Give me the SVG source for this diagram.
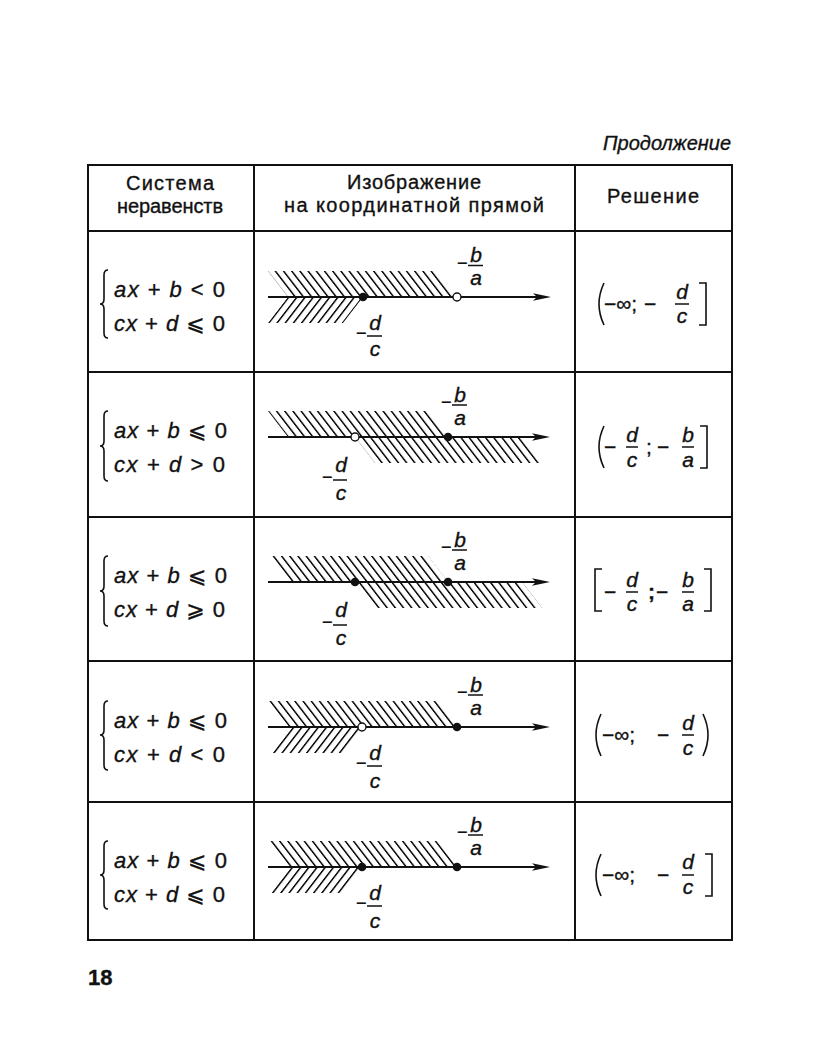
<svg xmlns="http://www.w3.org/2000/svg" width="816" height="1058" viewBox="0 0 816 1058">
<style>
.t{font-family:"Liberation Sans","DejaVu Sans",Arial,sans-serif;fill:#111;stroke:#111;stroke-width:0.35}
.i{font-style:italic}
.h{font-size:20px}
.eq{font-size:22px}
.f{font-size:21px;font-style:italic}
.m{font-size:18px}
.s{font-size:21px}
.grid{stroke:#111;stroke-width:2;fill:none}
.ax{stroke:#111;stroke-width:1.8}
.fb{stroke:#111;stroke-width:1.5}
.dot{fill:#111}
.open{fill:#fff;stroke:#111;stroke-width:1.4}
.dl{fill:none;stroke:#111;stroke-width:1.6}
</style>
<defs>
<pattern id="hb" patternUnits="userSpaceOnUse" width="8.2" height="20" patternTransform="skewX(37.6)">
<rect x="0" y="0" width="2" height="20" fill="#111"/>
</pattern>
<pattern id="hf" patternUnits="userSpaceOnUse" width="8.2" height="20" patternTransform="skewX(-37.6)">
<rect x="0" y="0" width="2" height="20" fill="#111"/>
</pattern>
<marker id="arr" markerUnits="userSpaceOnUse" markerWidth="20" markerHeight="10" refX="4" refY="5" orient="auto">
<path d="M0,1.2 L18,5 L0,8.8 L4,5 z" fill="#111"/>
</marker>
</defs>
<rect width="816" height="1058" fill="#fff"/>

<text class="t i" x="731" y="150" font-size="20" text-anchor="end">Продолжение</text>

<g id="table" class="grid">
<rect x="88" y="165" width="644" height="775"/>
<line x1="254" y1="165" x2="254" y2="940"/>
<line x1="575" y1="165" x2="575" y2="940"/>
<line x1="88" y1="231" x2="732" y2="231"/>
<line x1="88" y1="372" x2="732" y2="372"/>
<line x1="88" y1="517" x2="732" y2="517"/>
<line x1="88" y1="661" x2="732" y2="661"/>
<line x1="88" y1="802" x2="732" y2="802"/>
</g>

<g id="header">
<text class="t h" x="170" y="190" text-anchor="middle" textLength="88" lengthAdjust="spacing">Система</text>
<text class="t h" x="170" y="213" text-anchor="middle" textLength="106" lengthAdjust="spacing">неравенств</text>
<text class="t h" x="414" y="189" text-anchor="middle" textLength="134" lengthAdjust="spacing">Изображение</text>
<text class="t h" x="414" y="212" text-anchor="middle" textLength="260" lengthAdjust="spacing">на координатной прямой</text>
<text class="t h" x="653" y="203" text-anchor="middle" textLength="92" lengthAdjust="spacing">Решение</text>
</g>

<!-- Row 1 -->
<g id="row1-system">
<path class="dl" d="M108,270 Q104,270 104,275 L104,299 Q104,304 100,304 Q104,304 104,309 L104,333 Q104,338 108,338"/>
<text class="t eq" x="114" y="297" textLength="111" lengthAdjust="spacing"><tspan class="i">ax</tspan> + <tspan class="i">b</tspan> &lt; 0</text>
<text class="t eq" x="114" y="331" textLength="111" lengthAdjust="spacing"><tspan class="i">cx</tspan> + <tspan class="i">d</tspan> ⩽ 0</text>
</g>
<g id="row1-line">
<polygon points="268,271 437,271 457,297 288,297" fill="url(#hb)"/>
<polygon points="288,297 363,297 343,323 268,323" fill="url(#hf)"/>
<line class="ax" x1="268" y1="297" x2="537" y2="297" marker-end="url(#arr)"/>
<circle class="dot" cx="363" cy="297" r="4.3"/>
<circle class="open" cx="457" cy="297" r="4"/>
<text class="t m" x="457" y="268.5">−</text>
<line class="fb" x1="468" y1="265.5" x2="483" y2="265.5"/>
<text class="t f" x="476" y="262" text-anchor="middle">b</text>
<text class="t f" x="476" y="284.5" text-anchor="middle">a</text>
<text class="t m" x="356" y="339">−</text>
<line class="fb" x1="367" y1="336" x2="382" y2="336"/>
<text class="t f" x="375" y="330" text-anchor="middle">d</text>
<text class="t f" x="375" y="356" text-anchor="middle">c</text>
</g>
<g id="row1-solution">
<path class="dl" d="M604,283 Q594,304 604,325"/>
<text class="t s" x="604" y="311">−∞;</text>
<text class="t s" x="644" y="311">−</text>
<text class="t f" x="682" y="299" text-anchor="middle">d</text>
<line class="fb" x1="675" y1="304" x2="689" y2="304"/>
<text class="t f" x="682" y="323" text-anchor="middle">c</text>
<path class="dl" d="M699,283 H706 V325 H699"/>
</g>

<!-- Row 2 -->
<g id="row2-system">
<path class="dl" d="M108,411 Q104,411 104,416 L104,441 Q104,446 100,446 Q104,446 104,451 L104,476 Q104,481 108,481"/>
<text class="t eq" x="114" y="438" textLength="113" lengthAdjust="spacing"><tspan class="i">ax</tspan> + <tspan class="i">b</tspan> ⩽ 0</text>
<text class="t eq" x="114" y="472" textLength="111" lengthAdjust="spacing"><tspan class="i">cx</tspan> + <tspan class="i">d</tspan> &gt; 0</text>
</g>
<g id="row2-line">
<polygon points="268,411 428,411 448,437 288,437" fill="url(#hb)"/>
<polygon points="355,437 522,437 542,463 375,463" fill="url(#hb)"/>
<line class="ax" x1="268" y1="437" x2="536" y2="437" marker-end="url(#arr)"/>
<circle class="open" cx="355" cy="437" r="4"/>
<circle class="dot" cx="448" cy="437" r="4.3"/>
<text class="t m" x="441" y="408">−</text>
<line class="fb" x1="452" y1="405" x2="467" y2="405"/>
<text class="t f" x="460" y="402" text-anchor="middle">b</text>
<text class="t f" x="460" y="425" text-anchor="middle">a</text>
<text class="t m" x="322" y="483">−</text>
<line class="fb" x1="333" y1="480" x2="347" y2="480"/>
<text class="t f" x="341" y="472" text-anchor="middle">d</text>
<text class="t f" x="341" y="500" text-anchor="middle">c</text>
</g>
<g id="row2-solution">
<path class="dl" d="M604,426 Q594,447 604,468"/>
<text class="t s" x="604" y="454">−</text>
<text class="t f" x="632" y="442" text-anchor="middle">d</text>
<line class="fb" x1="626" y1="447" x2="638" y2="447"/>
<text class="t f" x="632" y="467" text-anchor="middle">c</text>
<text class="t s" x="646" y="454">;</text>
<text class="t s" x="657" y="454">−</text>
<text class="t f" x="688" y="442" text-anchor="middle">b</text>
<line class="fb" x1="682" y1="447" x2="694" y2="447"/>
<text class="t f" x="688" y="467" text-anchor="middle">a</text>
<path class="dl" d="M700,426 H707 V468 H700"/>
</g>

<!-- Row 3 -->
<g id="row3-system">
<path class="dl" d="M108,556 Q104,556 104,561 L104,586 Q104,591 100,591 Q104,591 104,596 L104,621 Q104,626 108,626"/>
<text class="t eq" x="114" y="583" textLength="113" lengthAdjust="spacing"><tspan class="i">ax</tspan> + <tspan class="i">b</tspan> ⩽ 0</text>
<text class="t eq" x="114" y="617" textLength="111" lengthAdjust="spacing"><tspan class="i">cx</tspan> + <tspan class="i">d</tspan> ⩾ 0</text>
</g>
<g id="row3-line">
<polygon points="268,556 428,556 448,582 288,582" fill="url(#hb)"/>
<polygon points="355,582 522,582 542,608 375,608" fill="url(#hb)"/>
<line class="ax" x1="268" y1="582" x2="536" y2="582" marker-end="url(#arr)"/>
<circle class="dot" cx="355" cy="582" r="4.3"/>
<circle class="dot" cx="448" cy="582" r="4.3"/>
<text class="t m" x="441" y="553">−</text>
<line class="fb" x1="452" y1="550" x2="467" y2="550"/>
<text class="t f" x="460" y="547" text-anchor="middle">b</text>
<text class="t f" x="460" y="570" text-anchor="middle">a</text>
<text class="t m" x="322" y="628">−</text>
<line class="fb" x1="333" y1="625" x2="347" y2="625"/>
<text class="t f" x="341" y="617" text-anchor="middle">d</text>
<text class="t f" x="341" y="645" text-anchor="middle">c</text>
</g>
<g id="row3-solution">
<path class="dl" d="M602,569 H595 V611 H602"/>
<text class="t s" x="604" y="599">−</text>
<text class="t f" x="632" y="587" text-anchor="middle">d</text>
<line class="fb" x1="626" y1="592" x2="638" y2="592"/>
<text class="t f" x="632" y="611" text-anchor="middle">c</text>
<text class="t s" x="648" y="599" font-weight="bold">;</text>
<text class="t s" x="656" y="599">−</text>
<text class="t f" x="688" y="587" text-anchor="middle">b</text>
<line class="fb" x1="682" y1="592" x2="694" y2="592"/>
<text class="t f" x="688" y="611" text-anchor="middle">a</text>
<path class="dl" d="M704,569 H711 V611 H704"/>
</g>

<!-- Row 4 -->
<g id="row4-system">
<path class="dl" d="M108,701 Q104,701 104,706 L104,730 Q104,735 100,735 Q104,735 104,740 L104,765 Q104,770 108,770"/>
<text class="t eq" x="114" y="728" textLength="113" lengthAdjust="spacing"><tspan class="i">ax</tspan> + <tspan class="i">b</tspan> ⩽ 0</text>
<text class="t eq" x="114" y="762" textLength="111" lengthAdjust="spacing"><tspan class="i">cx</tspan> + <tspan class="i">d</tspan> &lt; 0</text>
</g>
<g id="row4-line">
<polygon points="268,701 437,701 457,727 288,727" fill="url(#hb)"/>
<polygon points="288,727 362,727 342,753 268,753" fill="url(#hf)"/>
<line class="ax" x1="268" y1="727" x2="536" y2="727" marker-end="url(#arr)"/>
<circle class="open" cx="362" cy="727" r="4"/>
<circle class="dot" cx="457" cy="727" r="4.3"/>
<text class="t m" x="457" y="698">−</text>
<line class="fb" x1="468" y1="695" x2="483" y2="695"/>
<text class="t f" x="476" y="692" text-anchor="middle">b</text>
<text class="t f" x="476" y="715" text-anchor="middle">a</text>
<text class="t m" x="356" y="769">−</text>
<line class="fb" x1="367" y1="766" x2="382" y2="766"/>
<text class="t f" x="375" y="760" text-anchor="middle">d</text>
<text class="t f" x="375" y="788" text-anchor="middle">c</text>
</g>
<g id="row4-solution">
<path class="dl" d="M601,714 Q591,735 601,756"/>
<text class="t s" x="602" y="742">−∞;</text>
<text class="t s" x="657" y="742">−</text>
<text class="t f" x="688" y="730" text-anchor="middle">d</text>
<line class="fb" x1="682" y1="735" x2="694" y2="735"/>
<text class="t f" x="688" y="755" text-anchor="middle">c</text>
<path class="dl" d="M703,714 Q713,735 703,756"/>
</g>

<!-- Row 5 -->
<g id="row5-system">
<path class="dl" d="M108,841 Q104,841 104,846 L104,870 Q104,875 100,875 Q104,875 104,880 L104,904 Q104,909 108,909"/>
<text class="t eq" x="114" y="868" textLength="113" lengthAdjust="spacing"><tspan class="i">ax</tspan> + <tspan class="i">b</tspan> ⩽ 0</text>
<text class="t eq" x="114" y="902" textLength="111" lengthAdjust="spacing"><tspan class="i">cx</tspan> + <tspan class="i">d</tspan> ⩽ 0</text>
</g>
<g id="row5-line">
<polygon points="268,841 437,841 457,867 288,867" fill="url(#hb)"/>
<polygon points="288,867 362,867 342,893 268,893" fill="url(#hf)"/>
<line class="ax" x1="268" y1="867" x2="536" y2="867" marker-end="url(#arr)"/>
<circle class="dot" cx="362" cy="867" r="4.3"/>
<circle class="dot" cx="457" cy="867" r="4.3"/>
<text class="t m" x="457" y="838">−</text>
<line class="fb" x1="468" y1="835" x2="483" y2="835"/>
<text class="t f" x="476" y="832" text-anchor="middle">b</text>
<text class="t f" x="476" y="855" text-anchor="middle">a</text>
<text class="t m" x="356" y="909">−</text>
<line class="fb" x1="367" y1="906" x2="382" y2="906"/>
<text class="t f" x="375" y="900" text-anchor="middle">d</text>
<text class="t f" x="375" y="928" text-anchor="middle">c</text>
</g>
<g id="row5-solution">
<path class="dl" d="M601,854 Q591,875 601,896"/>
<text class="t s" x="602" y="882">−∞;</text>
<text class="t s" x="657" y="882">−</text>
<text class="t f" x="688" y="869" text-anchor="middle">d</text>
<line class="fb" x1="682" y1="875" x2="694" y2="875"/>
<text class="t f" x="688" y="894" text-anchor="middle">c</text>
<path class="dl" d="M705,854 H712 V896 H705"/>
</g>

<text class="t" x="88" y="985" font-size="22" font-weight="bold">18</text>
</svg>
